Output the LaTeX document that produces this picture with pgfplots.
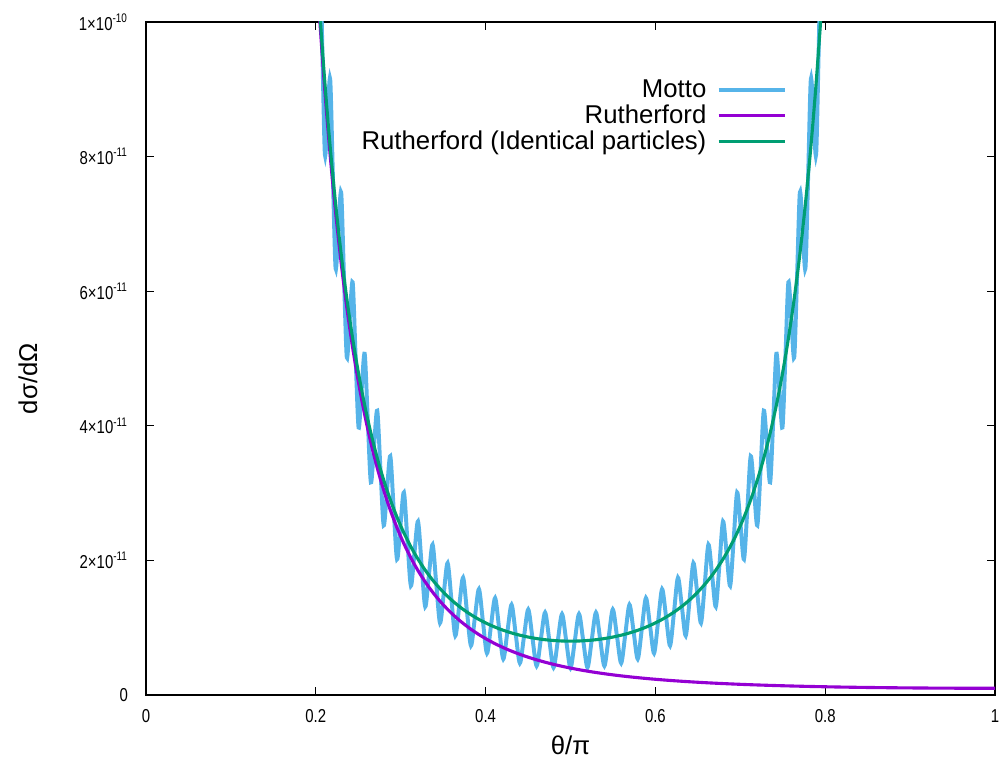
\documentclass[border=0pt]{standalone}
\usepackage{fontspec}
\setmainfont{Liberation Sans}
\newfontfamily\tickfont{Liberation Sans}[FakeStretch=0.8]
\usepackage{pgfplots}
\pgfplotsset{compat=1.18}
\definecolor{mottblue}{RGB}{86,180,233}
\definecolor{rpurple}{RGB}{148,0,211}
\definecolor{igreen}{RGB}{0,158,115}

\begin{document}
\begin{tikzpicture}
\begin{axis}[
    name=ax,
    scale only axis,
    width=14.375cm, height=11.395cm,
    xmin=0, xmax=1, ymin=0, ymax=100,
    axis line style={line width=0.7pt},
    tick align=inside,
    major tick length=0.14cm,
    tick style={line width=0.6pt, black},
    xtick={0,0.2,0.4,0.6,0.8,1},
    xticklabels={0,0.2,0.4,0.6,0.8,1},
    ytick={0,20,40,60,80,100},
    yticklabels={0,2×10\textsuperscript{-11},4×10\textsuperscript{-11},6×10\textsuperscript{-11},8×10\textsuperscript{-11},1×10\textsuperscript{-10}},
    ticklabel style={font=\tickfont\fontsize{9}{10}\selectfont},
    xticklabel style={yshift=-0.12cm},
    yticklabel style={xshift=-0.18cm},
    xlabel={θ/π}, ylabel={dσ/dΩ},
    label style={font=\fontsize{12.4}{14}\selectfont},
    xlabel style={at={(axis description cs:0.5,0)}, anchor=center, yshift=-0.85cm},
    ylabel style={at={(axis description cs:-0.139,0.47)}, anchor=center},
    legend style={draw=none, fill=none, at={(rel axis cs:0.7633,0.927)}, anchor=north east,
        font=\fontsize{12.4}{13}\selectfont, row sep=-2pt, column sep=3pt},
    legend cell align=right,
    legend plot pos=right,
    legend image code/.code={\draw[#1] (0cm,0cm) -- (1.13cm,0cm);},
]
% Mott scattering (identical spin-1/2 particles), units of 1e-12
\addplot[mottblue, line width=1.9pt, smooth] coordinates {
(0.19296,139.515) (0.19583,120.201) (0.19873,101.911) (0.20167,107.415) (0.20465,112.703)
(0.20767,96.074) (0.21072,80.305) (0.21382,86.009) (0.21695,91.488) (0.22012,77.076)
(0.22332,63.390) (0.22657,69.143) (0.22986,74.672) (0.23318,62.098) (0.23654,50.137)
(0.23995,55.837) (0.24339,61.320) (0.24687,50.273) (0.25039,39.747) (0.25395,45.326)
(0.25755,50.700) (0.26119,40.927) (0.26486,31.595) (0.26858,37.013) (0.27234,42.239)
(0.27613,33.530) (0.27996,25.196) (0.28383,30.430) (0.28774,35.488) (0.29169,27.670)
(0.29568,20.171) (0.29970,25.212) (0.30376,30.096) (0.30786,23.025) (0.31199,16.225)
(0.31616,21.077) (0.32037,25.787) (0.32461,19.343) (0.32889,13.127) (0.33320,17.800)
(0.33755,22.347) (0.34193,16.427) (0.34634,10.701) (0.35079,15.207) (0.35526,19.606)
(0.35977,14.125) (0.36431,8.805) (0.36887,13.165) (0.37347,17.433) (0.37809,12.317)
(0.38275,7.335) (0.38742,11.568) (0.39213,15.726) (0.39685,10.911) (0.40161,6.206)
(0.40638,10.337) (0.41118,14.407) (0.41599,9.838) (0.42083,5.357) (0.42568,9.408)
(0.43056,13.415) (0.43545,9.043) (0.44035,4.740) (0.44527,8.738) (0.45020,12.706)
(0.45515,8.489) (0.46010,4.322) (0.46507,8.294) (0.47004,12.251) (0.47503,8.149)
(0.48001,4.079) (0.48501,8.053) (0.49000,12.028) (0.49500,8.006) (0.50000,4.000)
(0.50500,8.006) (0.51000,12.028) (0.51499,8.053) (0.51999,4.079) (0.52497,8.149)
(0.52996,12.251) (0.53493,8.294) (0.53990,4.322) (0.54485,8.489) (0.54980,12.706)
(0.55473,8.738) (0.55965,4.740) (0.56455,9.043) (0.56944,13.415) (0.57432,9.408)
(0.57917,5.357) (0.58401,9.838) (0.58882,14.407) (0.59362,10.337) (0.59839,6.206)
(0.60315,10.911) (0.60787,15.726) (0.61258,11.568) (0.61725,7.335) (0.62191,12.317)
(0.62653,17.433) (0.63113,13.165) (0.63569,8.805) (0.64023,14.125) (0.64474,19.606)
(0.64921,15.207) (0.65366,10.701) (0.65807,16.427) (0.66245,22.347) (0.66680,17.800)
(0.67111,13.127) (0.67539,19.343) (0.67963,25.787) (0.68384,21.077) (0.68801,16.225)
(0.69214,23.025) (0.69624,30.096) (0.70030,25.212) (0.70432,20.171) (0.70831,27.670)
(0.71226,35.488) (0.71617,30.430) (0.72004,25.196) (0.72387,33.530) (0.72766,42.239)
(0.73142,37.013) (0.73514,31.595) (0.73881,40.927) (0.74245,50.700) (0.74605,45.326)
(0.74961,39.747) (0.75313,50.273) (0.75661,61.320) (0.76005,55.837) (0.76346,50.137)
(0.76682,62.098) (0.77014,74.672) (0.77343,69.143) (0.77668,63.390) (0.77988,77.076)
(0.78305,91.488) (0.78618,86.009) (0.78928,80.305) (0.79233,96.074) (0.79535,112.703)
(0.79833,107.415) (0.80127,101.911) (0.80417,120.201) (0.80704,139.515)
};
\addlegendentry{Motto}
% Rutherford
\addplot[rpurple, line width=1.5pt, smooth] coordinates {
(0.19873,112.397) (0.20465,100.341) (0.21072,89.641) (0.21695,80.142) (0.22332,71.706)
(0.22986,64.211) (0.23654,57.548) (0.24339,51.624) (0.25039,46.353) (0.25755,41.662)
(0.26486,37.484) (0.27234,33.762) (0.27996,30.443) (0.28774,27.483) (0.29568,24.841)
(0.30376,22.481) (0.31199,20.372) (0.32037,18.487) (0.32889,16.799) (0.33755,15.288)
(0.34634,13.933) (0.35526,12.719) (0.36431,11.628) (0.37347,10.649) (0.38275,9.768)
(0.39213,8.976) (0.40161,8.262) (0.41118,7.619) (0.42083,7.039) (0.43056,6.515)
(0.44035,6.041) (0.45020,5.613) (0.46010,5.225) (0.47004,4.873) (0.48001,4.554)
(0.49000,4.264) (0.50000,4.000)
(0.51000,3.760) (0.51999,3.542) (0.52996,3.342) (0.53990,3.160) (0.54980,2.994)
(0.55965,2.842) (0.56944,2.703) (0.57917,2.576) (0.58882,2.459) (0.59839,2.352)
(0.60787,2.253) (0.61725,2.162) (0.62653,2.079) (0.63569,2.002) (0.64474,1.931)
(0.65366,1.866) (0.66245,1.805) (0.67111,1.750) (0.67963,1.698) (0.68801,1.651)
(0.69624,1.606) (0.70432,1.565) (0.71226,1.527) (0.72004,1.492) (0.72766,1.459)
(0.73514,1.429) (0.74245,1.400) (0.74961,1.374) (0.75661,1.350) (0.76346,1.327)
(0.77014,1.306) (0.77668,1.286) (0.78305,1.267) (0.78928,1.250) (0.79535,1.234)
(0.80127,1.219) (0.825,1.165) (0.85,1.119) (0.875,1.081) (0.9,1.051)
(0.925,1.028) (0.95,1.012) (0.975,1.003) (1.0,1.000)
};
\addlegendentry{Rutherford}
% Rutherford, identical particles
\addplot[igreen, line width=1.5pt, smooth] coordinates {
(0.19873,113.617) (0.20465,101.575) (0.21072,90.891) (0.21695,81.410) (0.22332,72.992)
(0.22986,65.516) (0.23654,58.875) (0.24339,52.973) (0.25039,47.727) (0.25755,43.062)
(0.26486,38.913) (0.27234,35.221) (0.27996,31.935) (0.28774,29.010) (0.29568,26.406)
(0.30376,24.087) (0.31199,22.023) (0.32037,20.185) (0.32889,18.549) (0.33755,17.093)
(0.34634,15.799) (0.35526,14.650) (0.36431,13.630) (0.37347,12.728) (0.38275,11.931)
(0.39213,11.229) (0.40161,10.614) (0.41118,10.078) (0.42083,9.615) (0.43056,9.218)
(0.44035,8.884) (0.45020,8.607) (0.46010,8.385) (0.47004,8.215) (0.48001,8.095)
(0.49000,8.024) (0.50000,8.000)
(0.51000,8.024) (0.51999,8.095) (0.52996,8.215) (0.53990,8.385) (0.54980,8.607)
(0.55965,8.884) (0.56944,9.218) (0.57917,9.615) (0.58882,10.078) (0.59839,10.614)
(0.60787,11.229) (0.61725,11.931) (0.62653,12.728) (0.63569,13.630) (0.64474,14.650)
(0.65366,15.799) (0.66245,17.093) (0.67111,18.549) (0.67963,20.185) (0.68801,22.023)
(0.69624,24.087) (0.70432,26.406) (0.71226,29.010) (0.72004,31.935) (0.72766,35.221)
(0.73514,38.913) (0.74245,43.062) (0.74961,47.727) (0.75661,52.973) (0.76346,58.875)
(0.77014,65.516) (0.77668,72.992) (0.78305,81.410) (0.78928,90.891) (0.79535,101.575)
(0.80127,113.617)
};
\addlegendentry{Rutherford (Identical particles)}
\end{axis}
\pgfresetboundingbox
\path[use as bounding box] ([xshift=-2.472cm,yshift=-1.219cm]ax.south west) rectangle ([xshift=0.152cm,yshift=0.372cm]ax.north east);
\end{tikzpicture}
\end{document}
